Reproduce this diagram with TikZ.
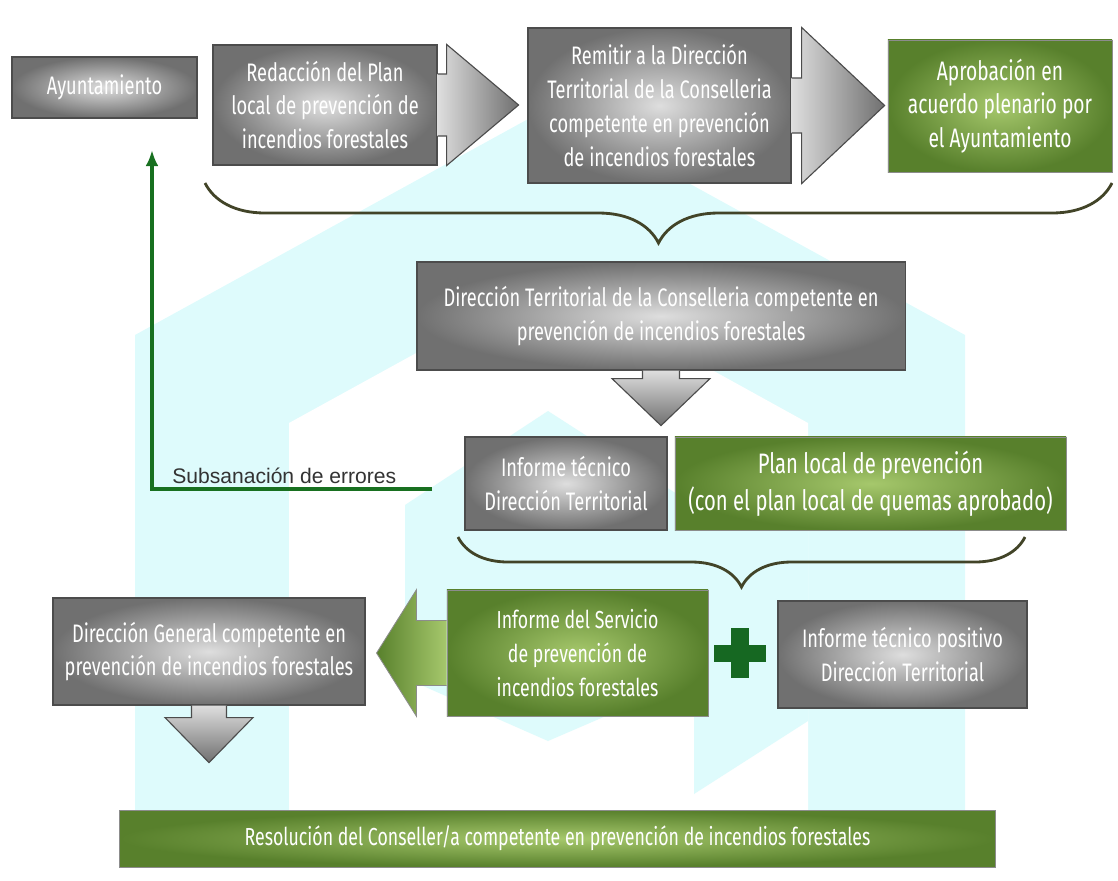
\documentclass[tikz,border=0pt]{standalone}
\usepackage{fontspec}
\setmainfont{Fira Sans}[FakeStretch=0.72]
\newfontfamily\labelfont{Liberation Sans}
\usetikzlibrary{calc,arrows.meta,decorations.pathreplacing}

\definecolor{bgcyan}{RGB}{222,251,252}
\definecolor{greyin}{RGB}{222,222,222}
\definecolor{greyout}{RGB}{112,112,112}
\definecolor{greenin}{RGB}{166,200,108}
\definecolor{greenout}{RGB}{88,128,44}
\definecolor{bracecol}{RGB}{66,68,40}
\definecolor{plusgreen}{RGB}{22,104,34}
\definecolor{subgreen}{RGB}{24,112,32}

\begin{document}
\begin{tikzpicture}[
		x=0.025cm, y=-0.025cm,
		greybox/.style={rectangle, draw=black!70, line width=0.8pt, inner color=greyin, outer color=greyout,
				text=white, align=center, font=\fontsize{18}{24}\selectfont},
		greenbox/.style={rectangle, draw=black!45, line width=0.6pt, inner color=greenin, outer color=greenout,
				text=white, align=center, font=\fontsize{18}{24}\selectfont},
		greyhead/.style={draw=black!70, line width=0.8pt},
		greenhead/.style={draw=black!45, line width=0.6pt, left color=greenout, right color=greenin},
		bracestyle/.style={draw=bracecol, line width=2pt, decorate},
		subarrow/.style={draw=subgreen, line width=2.2pt, -{Latex[length=4mm,width=3.2mm]}},
		sublabel/.style={text=black!80, font=\labelfont\fontsize{15}{17}\selectfont, inner sep=0pt}
	]
	\useasboundingbox (0,0) rectangle (1118,881);

	% watermark behind the diagram
	\fill[bgcyan] (135,810) -- (135,335) -- (550,107) -- (965,335) -- (965,810) -- cycle;
	\fill[white] (289,810) -- (289,423) -- (549,280) -- (808,423) -- (808,810) -- cycle;
	\fill[bgcyan] (405,505) -- (548,411) -- (694,505) -- (694,678) -- (548,741) -- (405,678) -- cycle;
	\fill[bgcyan] (694,530) -- (808,530) -- (808,721) -- (694,794) -- cycle;

	% first row
	\node[greybox, minimum width=4.625cm, minimum height=1.525cm] (ayunt) at (104.5,87.5) {Ayuntamiento};
	\node[greybox, minimum width=5.6cm, minimum height=3cm] (redac) at (325,105)
	{Redacción del Plan\\local de prevención de\\incendios forestales};
	\path[greyhead, left color=greyin, right color=greyout] ($(redac.east)+(0,-31)$) -- ++(9,0) -- ($(redac.north east)+(9,0)$)
	-- ($(redac.east)+(81,0)$) -- ($(redac.south east)+(9,0)$) -- ($(redac.east)+(9,31)$) -- ($(redac.east)+(0,31)$);
	\node[greybox, minimum width=6.575cm, minimum height=3.875cm] (remis) at (659.5,105.5)
	{Remitir a la Dirección\\Territorial de la Conselleria\\competente en prevención\\de incendios forestales};
	\path[greyhead, left color=greyin, right color=greyout] ($(remis.east)+(0,-27.5)$) -- ++(10,0) -- ($(remis.north east)+(10,0)$)
	-- ($(remis.east)+(93,0)$) -- ($(remis.south east)+(10,0)$) -- ($(remis.east)+(10,27.5)$) -- ($(remis.east)+(0,27.5)$);
	\node[greenbox, minimum width=5.6cm, minimum height=3.3cm, font=\fontsize{19}{24}\selectfont] (aprob) at (1000,106)
	{Aprobación en\\acuerdo plenario por\\el Ayuntamiento};

	\coordinate (topbraceR) at (1112,183);
	\coordinate (topbraceL) at (205,183);
	\draw[bracestyle, decoration={brace, amplitude=1.5cm}] (topbraceR) -- (topbraceL);

	% second row
	\node[greybox, minimum width=12.2cm, minimum height=2.7cm] (dirter) at (661,316)
	{Dirección Territorial de la Conselleria competente en\\prevención de incendios forestales};
	\path[greyhead, top color=greyin, bottom color=greyout] ($(dirter.south)+(-18.5,0)$) -- ++(0,8) -- ($(dirter.south)+(-49,8)$)
	-- ($(dirter.south)+(0,55)$) -- ($(dirter.south)+(49,8)$) -- ($(dirter.south)+(18.5,8)$) -- ($(dirter.south)+(18.5,0)$);

	\node[greybox, minimum width=5.05cm, minimum height=2.325cm] (inftec) at (566,483.5)
	{Informe técnico\\Dirección Territorial};
	\node[greenbox, minimum width=9.775cm, minimum height=2.325cm, font=\fontsize{20}{26}\selectfont] (planloc) at (870.5,483.5)
	{Plan local de prevención\\(con el plan local de quemas aprobado)};

	\coordinate (subtip) at (152,150);
	\coordinate (subend) at (432,489);
	\draw[subarrow] (subend) -| (subtip);
	\node[sublabel, anchor=south west] (sublbl) at (172,484) {Subsanación de errores};

	\coordinate (midbraceR) at (1025,537);
	\coordinate (midbraceL) at (458,537);
	\draw[bracestyle, decoration={brace, amplitude=1.25cm}] (midbraceR) -- (midbraceL);

	% third row
	\node[greybox, minimum width=7.8cm, minimum height=2.675cm] (dirgen) at (209,651.5)
	{Dirección General competente en\\prevención de incendios forestales};
	\path[greyhead, top color=greyin, bottom color=greyout] ($(dirgen.south)+(-17.5,0)$) -- ++(0,12) -- ($(dirgen.south)+(-44,12)$)
	-- ($(dirgen.south)+(0,57)$) -- ($(dirgen.south)+(44,12)$) -- ($(dirgen.south)+(17.5,12)$) -- ($(dirgen.south)+(17.5,0)$);

	\node[greenbox, minimum width=6.525cm, minimum height=3.15cm, font=\fontsize{17.5}{24}\selectfont] (infserv) at (577.5,653)
	{Informe del Servicio\\de prevención de\\incendios forestales};
	\path[greenhead] ($(infserv.west)+(0,-32.5)$) -- ++(-30,0) -- ($(infserv.north west)+(-30,0)$)
	-- ($(infserv.west)+(-70,0)$) -- ($(infserv.south west)+(-30,0)$) -- ($(infserv.west)+(-30,32.5)$) -- ($(infserv.west)+(0,32.5)$);

	\coordinate (plus) at (740,653);
	\fill[plusgreen] ($(plus)+(-9,-25)$) rectangle ($(plus)+(9,25)$);
	\fill[plusgreen] ($(plus)+(-26,-8.5)$) rectangle ($(plus)+(26,8.5)$);

	\node[greybox, minimum width=6.225cm, minimum height=2.675cm] (infpos) at (902.5,654.5)
	{Informe técnico positivo\\Dirección Territorial};

	% last row
	\node[greenbox, minimum width=21.875cm, minimum height=1.425cm, font=\fontsize{17.5}{22}\selectfont] (resol) at (557.5,838.5)
	{Resolución del Conseller/a competente en prevención de incendios forestales};
\end{tikzpicture}
\end{document}
